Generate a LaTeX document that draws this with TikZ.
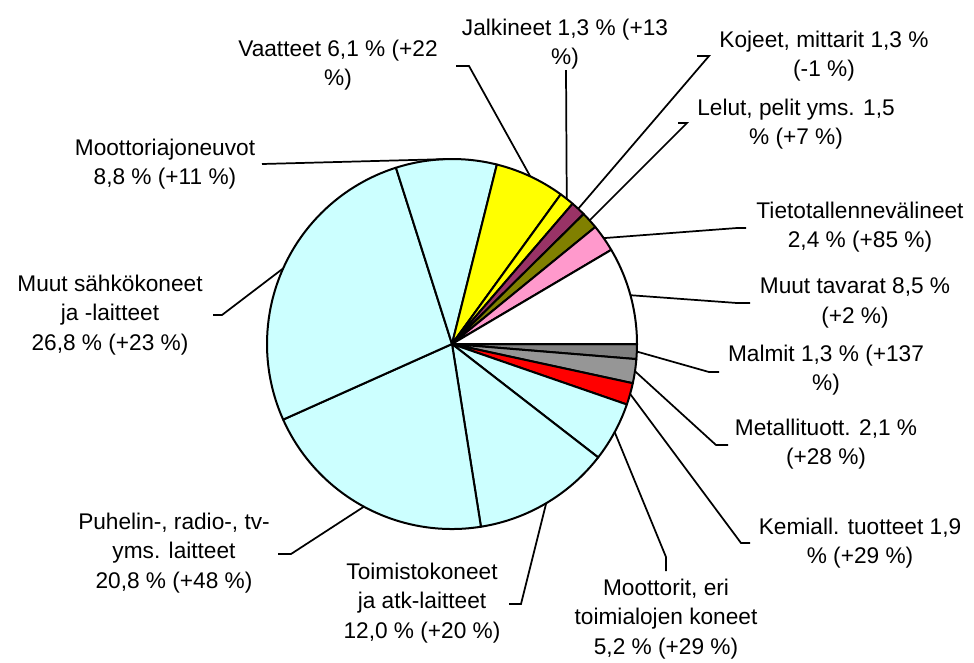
\documentclass[tikz,border=0pt]{standalone}
\usepackage{fontspec}
\setmainfont{Liberation Sans}

\definecolor{malmigray}{HTML}{808080}
\definecolor{metalgray}{HTML}{969696}
\definecolor{piecyan}{HTML}{CCFFFF}
\definecolor{pieyellow}{HTML}{FFFF00}
\definecolor{kojeplum}{HTML}{993366}
\definecolor{leluolive}{HTML}{808000}
\definecolor{tietopink}{HTML}{FF99CC}

\begin{document}
\begin{tikzpicture}[x=0.75pt,y=-0.75pt]

        \tikzset{
            slice/.style={draw=black, line width=1.5pt, line join=round},
            leader/.style={line width=1.3pt},
            lbl/.style={align=center, inner sep=0pt, font=\fontsize{17}{22}\selectfont}
        }

        \useasboundingbox (0,0) rectangle (974,662);

        \coordinate (c) at (452,344);

        % slices, clockwise from the right
        \foreach \a/\b/\col/\nm in {0/1.3/malmigray/malmit, 1.3/3.4/metalgray/metalli,
            3.4/5.3/red/kemiall, 5.3/10.5/piecyan/moottorit, 10.5/22.5/piecyan/toimisto,
            22.5/43.3/piecyan/puhelin, 43.3/70.1/piecyan/sahko, 70.1/78.9/piecyan/ajoneuvot,
            78.9/85.0/pieyellow/vaatteet, 85.0/86.3/pieyellow/jalkineet,
            86.3/87.6/kojeplum/kojeet, 87.6/89.1/leluolive/lelut,
            89.1/91.5/tietopink/tieto, 91.5/100/white/muut}
        {
            \pgfmathsetmacro{\sa}{\a*3.6}
            \pgfmathsetmacro{\ea}{\b*3.6}
            \pgfmathsetmacro{\ma}{(\a+\b)*1.8}
            \filldraw[slice, fill=\col] (c) -- ++(\sa:185)
            arc[start angle=\sa, end angle=\ea, radius=185] -- cycle;
            \path (c) ++(\ma:185) coordinate (m-\nm);
        }

        \node[lbl] (l-vaatteet) at (338,65) {Vaatteet 6,1 \% (+22\\\%)};
        \node[lbl] (l-jalkineet) at (565,44) {Jalkineet 1,3 \% (+13\\\%)};
        \node[lbl] (l-kojeet) at (824,56) {Kojeet, mittarit 1,3 \%\\(-1 \%)};
        \node[lbl] (l-lelut) at (796,124) {Lelut, pelit yms. 1,5\\\% (+7 \%)};
        \node[lbl] (l-tieto) at (860,227) {Tietotallennevälineet\\2,4 \% (+85 \%)};
        \node[lbl] (l-muut) at (855,303) {Muut tavarat 8,5 \%\\(+2 \%)};
        \node[lbl] (l-malmit) at (826,370) {Malmit 1,3 \% (+137\\\%)};
        \node[lbl] (l-metalli) at (826,444) {Metallituott. 2,1 \%\\(+28 \%)};
        \node[lbl] (l-kemiall) at (860,543) {Kemiall. tuotteet 1,9\\\% (+29 \%)};
        \node[lbl] (l-moottorit) at (666,619) {Moottorit, eri\\toimialojen koneet\\5,2 \% (+29 \%)};
        \node[lbl] (l-toimisto) at (422,603) {Toimistokoneet\\ja atk-laitteet\\12,0 \% (+20 \%)};
        \node[lbl] (l-puhelin) at (174,553) {Puhelin-, radio-, tv-\\yms. laitteet\\20,8 \% (+48 \%)};
        \node[lbl] (l-sahko) at (110,315) {Muut sähkökoneet\\ja -laitteet\\26,8 \% (+23 \%)};
        \node[lbl] (l-ajoneuvot) at (165,164) {Moottoriajoneuvot\\8,8 \% (+11 \%)};

        \coordinate (b-vaatteet) at (469,66);
        \coordinate (e-vaatteet) at (456,66);
        \coordinate (e-jalkineet) at (566,70);
        \coordinate (b-kojeet) at (709,56);
        \coordinate (e-kojeet) at (697,56);
        \coordinate (b-lelut) at (687,123);
        \coordinate (e-lelut) at (678,123);
        \coordinate (b-tieto) at (737,228);
        \coordinate (e-tieto) at (746,228);
        \coordinate (b-muut) at (737,303);
        \coordinate (e-muut) at (750,303);
        \coordinate (b-malmit) at (709,372);
        \coordinate (e-malmit) at (719,372);
        \coordinate (b-metalli) at (716,445);
        \coordinate (e-metalli) at (728,445);
        \coordinate (b-kemiall) at (741,543);
        \coordinate (e-kemiall) at (750,543);
        \coordinate (b-moottorit) at (666,557);
        \coordinate (e-moottorit) at (666,571);
        \coordinate (b-toimisto) at (521,604);
        \coordinate (e-toimisto) at (509,604);
        \coordinate (b-puhelin) at (291,554);
        \coordinate (e-puhelin) at (278,554);
        \coordinate (b-sahko) at (222,315);
        \coordinate (e-sahko) at (213,315);
        \coordinate (e-ajoneuvot) at (262,164);

        \draw[leader] (m-vaatteet) -- (b-vaatteet) -- (e-vaatteet);
        \draw[leader] (m-jalkineet) -- (e-jalkineet);
        \draw[leader] (m-kojeet) -- (b-kojeet) -- (e-kojeet);
        \draw[leader] (m-lelut) -- (b-lelut) -- (e-lelut);
        \draw[leader] (m-tieto) -- (b-tieto) -- (e-tieto);
        \draw[leader] (m-muut) -- (b-muut) -- (e-muut);
        \draw[leader] (m-malmit) -- (b-malmit) -- (e-malmit);
        \draw[leader] (m-metalli) -- (b-metalli) -- (e-metalli);
        \draw[leader] (m-kemiall) -- (b-kemiall) -- (e-kemiall);
        \draw[leader] (m-moottorit) -- (b-moottorit) -- (e-moottorit);
        \draw[leader] (m-toimisto) -- (b-toimisto) -- (e-toimisto);
        \draw[leader] (m-puhelin) -- (b-puhelin) -- (e-puhelin);
        \draw[leader] (m-sahko) -- (b-sahko) -- (e-sahko);
        \draw[leader] (m-ajoneuvot) -- (e-ajoneuvot);

    \end{tikzpicture}
\end{document}
